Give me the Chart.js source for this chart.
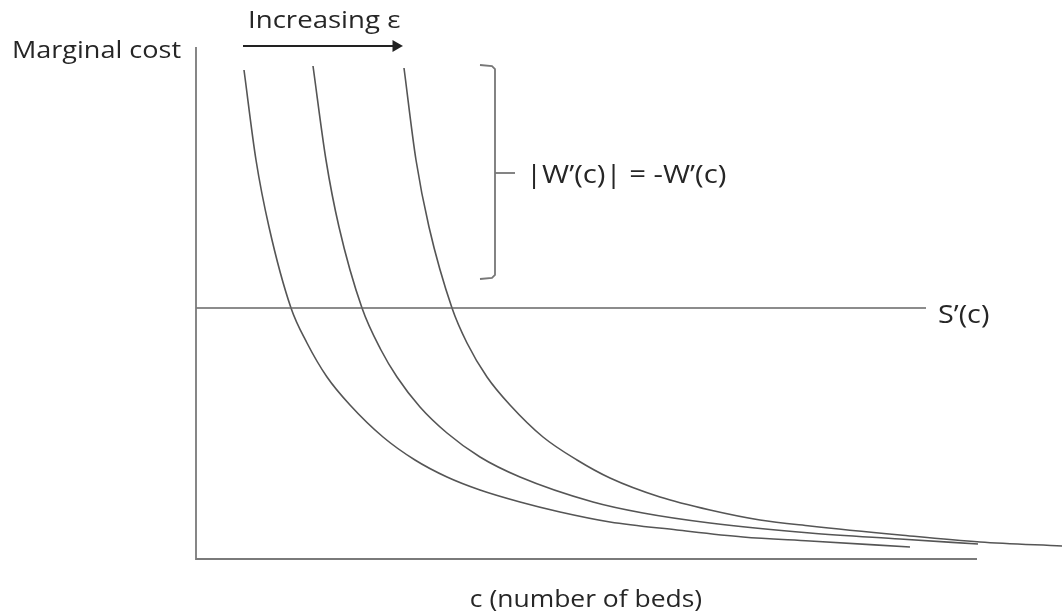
<!DOCTYPE html>
<html>
<head>
<meta charset="utf-8">
<script src="https://cdn.jsdelivr.net/npm/chart.js@4"></script>
<style>
  html, body { margin: 0; padding: 0; background: #fff; }
  #wrap { width: 1062px; height: 616px; }
</style>
</head>
<body>
<div id="wrap"><canvas id="c" width="1062" height="616"></canvas></div>
<script>
// Marginal cost curves -W'(c), one per epsilon (x = beds, y = cost, arbitrary units)
const curve1X = [4.8, 6.0, 7.3, 9.5, 11.1, 13.1, 15.4, 18.7, 21.9, 25.1, 28.4, 32.4, 36.4, 41.4, 48.1, 54.7, 61.4, 71.4];
const curve1Y = [48.9, 39.9, 33.2, 25.1, 21.6, 18.2, 15.4, 12.2, 9.9, 8.2, 6.9, 5.7, 4.7, 3.7, 2.9, 2.2, 1.8, 1.2];
const curve2X = [11.7, 13.0, 14.3, 16.6, 18.5, 20.1, 22.4, 25.1, 28.4, 32.4, 39.7, 44.7, 51.4, 61.4, 70.4, 78.2];
const curve2Y = [49.3, 39.9, 33.2, 25.1, 20.9, 18.2, 15.2, 12.6, 10.2, 8.2, 5.7, 4.6, 3.6, 2.6, 2.0, 1.5];
const curve3X = [20.8, 22.0, 23.3, 25.6, 27.1, 29.1, 31.4, 34.7, 38.1, 41.4, 46.4, 51.4, 56.4, 61.4, 70.4, 78.4, 86.6];
const curve3Y = [49.1, 39.9, 33.2, 25.1, 21.6, 18.2, 15.4, 12.2, 9.9, 8.1, 6.2, 4.9, 3.9, 3.3, 2.4, 1.7, 1.3];

// S'(c): constant marginal cost of a bed
const sPrimeLevel = 25.1;
const sPrimeEnd = 73.0;

// axis extents
const xAxisEnd = 78.1;
const yAxisTop = 51.2;

// "Increasing ε" arrow
const arrowX = [4.7, 20.0];
const arrowY = 51.3;

// bracket next to the curves
const bracketX = [28.4, 29.6, 29.9, 29.9, 29.6, 28.4];
const bracketY = [49.4, 49.3, 49.0, 28.4, 28.1, 28.0];
const bracketTipX = [29.9, 31.9];
const bracketTipY = 38.6;

// text labels (baseline anchored)
const labelText  = ['Marginal cost', 'Increasing ε', '|W\u2019(c)| = -W\u2019(c)', 'S\u2019(c)', 'c (number of beds)'];
const labelX     = [-18.4, 5.2, 33.0, 74.2, 39.0];
const labelY     = [50.1, 53.1, 37.6, 23.6, -4.8];
const labelAlign = ['left', 'left', 'left', 'left', 'center'];
const labelSize  = [23.5, 24, 25.5, 25, 23];

const pts = (xs, ys) => xs.map((x, i) => ({ x, y: ys[i] }));

const curveStyle = { showLine: true, pointRadius: 0, borderColor: '#555', borderWidth: 1.6, cubicInterpolationMode: 'monotone', fill: false };
const lineStyle  = { showLine: true, pointRadius: 0, borderColor: '#7a7a7a', borderWidth: 1.8, fill: false };

const textPlugin = {
  id: 'texts',
  afterDatasetsDraw(chart) {
    const { ctx, scales: { x, y } } = chart;
    labelText.forEach((t, i) => {
      ctx.save();
      ctx.fillStyle = '#262626';
      ctx.font = labelSize[i] + 'px "Open Sans"';
      ctx.textBaseline = 'alphabetic';
      ctx.textAlign = labelAlign[i];
      ctx.translate(x.getPixelForValue(labelX[i]), y.getPixelForValue(labelY[i]));
      ctx.scale(1.15, 1);   // the source lettering is set wider than Open Sans
      ctx.fillText(t, 0, 0);
      ctx.restore();
    });
  }
};

new Chart(document.getElementById('c').getContext('2d'), {
  type: 'scatter',
  data: {
    datasets: [
      { ...lineStyle, data: [{ x: 0, y: yAxisTop }, { x: 0, y: 0 }, { x: xAxisEnd, y: 0 }] },
      { ...lineStyle, borderColor: '#666', borderWidth: 1.5, data: [{ x: 0, y: sPrimeLevel }, { x: sPrimeEnd, y: sPrimeLevel }] },
      { ...curveStyle, data: pts(curve1X, curve1Y) },
      { ...curveStyle, data: pts(curve2X, curve2Y) },
      { ...curveStyle, data: pts(curve3X, curve3Y) },
      { ...lineStyle, borderColor: '#777', data: pts(bracketX, bracketY) },
      { ...lineStyle, borderColor: '#777', data: bracketTipX.map(x => ({ x, y: bracketTipY })) },
      {
        showLine: true, borderColor: '#222', borderWidth: 2,
        data: arrowX.map(x => ({ x, y: arrowY })),
        pointRadius: [0, 5], pointStyle: 'triangle', rotation: 90,
        pointBackgroundColor: '#222', pointBorderColor: '#222'
      }
    ]
  },
  options: {
    responsive: false,
    animation: false,
    layout: { padding: 0, autoPadding: false },
    scales: {
      x: { type: 'linear', min: -19.6, max: 86.6, display: false },
      y: { type: 'linear', min: -5.7, max: 55.9, display: false }
    },
    plugins: { legend: { display: false }, tooltip: { enabled: false } }
  },
  plugins: [textPlugin]
});
</script>
</body>
</html>
